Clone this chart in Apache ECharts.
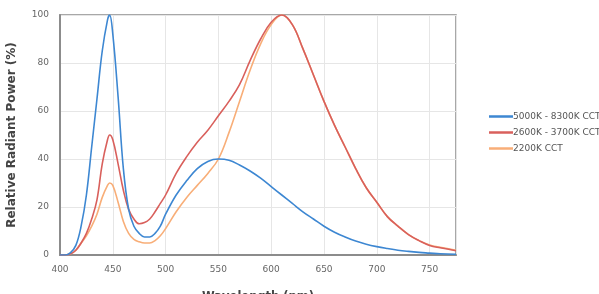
<!DOCTYPE html>
<html>
<head>
<meta charset="utf-8">
<script src="https://cdn.jsdelivr.net/npm/echarts@6/dist/echarts.min.js"></script>
<style>
	html, body{
		margin: 0;
		padding: 0;
		background: #fff;
	}
	#chart_box{
		width: 599px;
		height: 294px;
	}
</style>
</head>
<body>
<div id="chart_box"></div>
<script type="text/javascript">
var seriesNames = ['5000K - 8300K CCT', '2600K - 3700K CCT', '2200K CCT'];
var seriesColors = ['#3d87d2', '#d9605c', '#f8ae78'];

var wavelength = [400, 405, 410, 415, 420, 425, 430, 435, 440, 445, 447, 450, 455, 460, 465, 470, 475, 480, 485, 490, 495, 500,
	510, 520, 530, 540, 550, 560, 570, 580, 590, 600, 610, 620, 630, 640, 650, 660, 670, 680, 690, 700,
	710, 720, 730, 740, 750, 760, 775];

var coolWhite = [0, 0, 1, 4, 12, 25, 45, 65, 85, 98, 100, 92, 66, 36, 19, 12, 9, 7.5, 7.5, 9, 12, 17,
	25, 31, 36, 39, 40, 39.5, 37.5, 35, 32, 28.5, 25, 21.5, 18, 15, 12, 9.5, 7.5, 5.8, 4.5, 3.5,
	2.7, 2, 1.5, 1.1, 0.8, 0.5, 0.3];

var warmWhite = [0, 0, 0.5, 2, 5, 9, 15, 23, 38, 48, 50, 48, 38, 27, 19, 15, 13, 13.5, 15, 18, 21.5, 25,
	34, 41, 47, 52, 58, 64, 71, 81, 90, 97, 100, 96, 86, 75, 64, 54, 45, 36, 28, 22,
	16, 12, 8.5, 6, 4, 3, 1.8];

var amber = [0, 0, 0.5, 2, 5, 8, 12, 17, 24, 29, 30, 29, 22, 14, 9, 6.5, 5.5, 5, 5, 6, 8, 11,
	18, 24, 29, 34, 40, 51, 64, 77, 88, 96, 100, 96, 86, 75, 64, 54, 45, 36, 28, 22,
	16, 12, 8.5, 6, 4.2, 3.2, 2];

var seriesValues = [coolWhite, warmWhite, amber];

function pairs(values) {
	return wavelength.map(function(w, i) {
		return [w, values[i]];
	});
}

var myChart = echarts.init(document.getElementById('chart_box'), null, {renderer: 'canvas'});

var series = seriesNames.map(function(name, i) {
	return {
		name: name,
		type: 'line',
		smooth: 0.4,
		showSymbol: false,
		symbol: 'none',
		lineStyle: {
			color: seriesColors[i],
			width: 1.6
		},
		itemStyle: {
			color: seriesColors[i]
		},
		data: pairs(seriesValues[i]),
		z: 3 - i
	};
});

var option = {
	animation: false,
	backgroundColor: '#fff',
	textStyle: {
		fontFamily: 'DejaVu Sans'
	},
	grid: {
		left: 60,
		right: 143,
		top: 15,
		bottom: 39,
		containLabel: false,
		outerBoundsMode: 'none',
		show: true,
		borderColor: '#8c8c8c',
		borderWidth: 1.5
	},
	legend: {
		orient: 'vertical',
		left: 484,
		top: 107,
		itemWidth: 24,
		itemHeight: 2.5,
		itemGap: 7,
		icon: 'rect',
		textStyle: {
			color: '#555',
			fontSize: 9,
			fontFamily: 'DejaVu Sans',
			padding: [0, 0, 0, -5]
		},
		data: seriesNames
	},
	xAxis: {
		type: 'value',
		min: 400,
		max: 775,
		interval: 50,
		name: 'Wavelength (nm)',
		nameLocation: 'middle',
		nameGap: 36,
		nameTextStyle: {
			fontWeight: 'bold',
			fontSize: 11.5,
			color: '#444'
		},
		axisLine: {
			show: true,
			lineStyle: {color: '#8c8c8c', width: 2}
		},
		axisTick: {show: false},
		axisLabel: {
			color: '#666',
			fontSize: 9,
			margin: 10,
			showMaxLabel: false
		},
		splitLine: {
			show: true,
			lineStyle: {color: '#e6e6e6', width: 1}
		}
	},
	yAxis: {
		type: 'value',
		min: 0,
		max: 100,
		interval: 20,
		name: 'Relative Radiant Power (%)',
		nameLocation: 'middle',
		nameGap: 42,
		nameTextStyle: {
			fontWeight: 'bold',
			fontSize: 12,
			color: '#444'
		},
		axisLine: {
			show: true,
			lineStyle: {color: '#8c8c8c', width: 2}
		},
		axisTick: {show: false},
		axisLabel: {
			color: '#666',
			fontSize: 9,
			margin: 11
		},
		splitLine: {
			show: true,
			lineStyle: {color: '#e6e6e6', width: 1}
		}
	},
	series: series
};

myChart.setOption(option);
</script>
</body>
</html>
